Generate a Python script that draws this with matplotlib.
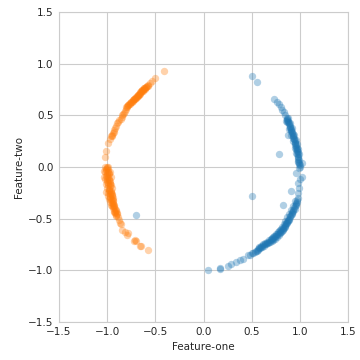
import numpy as np
import matplotlib
matplotlib.use('Agg')
import matplotlib.pyplot as plt
import seaborn as sns

# class 0 (blue) points
blue_x = [0.507, 0.559, 0.732, 0.766, 0.78, 0.80, 0.812, 0.83, 0.845, 0.864,
          0.87, 0.88, 0.89, 0.898, 0.905, 0.91, 0.92, 0.925, 0.933, 0.94,
          0.945, 0.95, 0.955, 0.96, 0.965, 0.97, 0.975, 0.98, 0.985, 0.99,
          0.995, 1.0, 0.9, 0.92, 0.94, 0.955, 0.97, 0.98, 0.99, 0.87,
          0.89, 0.91, 0.93, 0.95, 0.96, 0.88, 0.86,
          0.874, 0.787, 1.026, 0.96, 1.02, 0.985, 1.0, 0.99, 0.985, 0.507,
          0.909, 0.829,
          0.968, 0.955, 0.945, 0.933, 0.92, 0.905, 0.89, 0.875, 0.864, 0.85,
          0.835, 0.82, 0.805, 0.794, 0.78, 0.76, 0.74, 0.72, 0.705, 0.69,
          0.67, 0.65, 0.63, 0.61, 0.587, 0.565, 0.55, 0.53, 0.51, 0.5,
          0.483, 0.465, 0.95, 0.93, 0.91, 0.89, 0.87, 0.85, 0.83, 0.81,
          0.79, 0.77, 0.75, 0.73, 0.71, 0.68, 0.66, 0.64, 0.62, 0.6,
          0.58, 0.975, 0.96, 0.94, 0.92, 0.9, 0.88, 0.86, 0.84, 0.82,
          0.8, 0.7, 0.72, 0.74, 0.76, 0.78,
          0.865, 0.875, 0.885, 0.895, 0.9, 0.91, 0.915, 0.925, 0.93, 0.935,
          0.945, 0.95, 0.96, 0.965, 0.97, 0.975, 0.98, 0.985, 0.99, 1.0,
          0.995, 0.985,
          0.97, 0.96, 0.945, 0.93, 0.915, 0.9, 0.885, 0.87, 0.855, 0.84,
          0.825, 0.81, 0.795, 0.775, 0.755, 0.735, 0.715, 0.695, 0.675, 0.655,
          0.635, 0.615, 0.595, 0.575, 0.56, 0.54,
          0.414, 0.379, 0.334, 0.282, 0.251, 0.171, 0.175, 0.05, -0.704]
blue_y = [0.875, 0.82, 0.656, 0.623, 0.61, 0.575, 0.552, 0.53, 0.50, 0.472,
          0.455, 0.43, 0.41, 0.39, 0.37, 0.36, 0.34, 0.32, 0.294, 0.27,
          0.25, 0.235, 0.215, 0.197, 0.18, 0.16, 0.14, 0.12, 0.1, 0.07,
          0.04, 0.0, 0.42, 0.38, 0.31, 0.26, 0.22, 0.17, 0.12, 0.43,
          0.37, 0.31, 0.25, 0.18, 0.13, 0.47, 0.44,
          0.307, 0.123, -0.094, -0.06, 0.04, -0.158, -0.12, -0.2, -0.255, -0.278,
          -0.23, -0.368,
          -0.32, -0.35, -0.38, -0.417, -0.44, -0.47, -0.50, -0.525, -0.546, -0.57,
          -0.59, -0.61, -0.63, -0.643, -0.66, -0.68, -0.695, -0.705, -0.715, -0.724,
          -0.74, -0.75, -0.762, -0.775, -0.788, -0.80, -0.81, -0.82, -0.835, -0.836,
          -0.853, -0.855, -0.33, -0.38, -0.42, -0.46, -0.49, -0.52, -0.55, -0.58,
          -0.61, -0.63, -0.65, -0.67, -0.69, -0.71, -0.725, -0.74, -0.75, -0.77,
          -0.78, -0.3, -0.36, -0.40, -0.46, -0.48, -0.51, -0.54, -0.56, -0.59,
          -0.6, -0.70, -0.68, -0.665, -0.65, -0.625,
          0.46, 0.44, 0.42, 0.40, 0.38, 0.35, 0.33, 0.30, 0.28, 0.27,
          0.23, 0.21, 0.17, 0.15, 0.12, 0.10, 0.08, 0.06, 0.03, 0.02,
          -0.01, 0.05,
          -0.34, -0.37, -0.41, -0.43, -0.45, -0.49, -0.51, -0.53, -0.555, -0.58,
          -0.6, -0.62, -0.635, -0.65, -0.67, -0.685, -0.695, -0.71, -0.725, -0.735,
          -0.75, -0.76, -0.775, -0.785, -0.795, -0.81,
          -0.891, -0.904, -0.92, -0.937, -0.959, -0.982, -0.985, -0.998, -0.465]

# class 1 (orange) points
orange_x = [-0.41, -0.504, -0.538, -0.56, -0.575, -0.59, -0.605, -0.62, -0.635, -0.645,
            -0.659, -0.67, -0.685, -0.70, -0.715, -0.729, -0.745, -0.76, -0.78, -0.798,
            -0.81, -0.82, -0.835, -0.849, -0.86, -0.875, -0.89, -0.901, -0.91, -0.92,
            -0.929, -0.94, -0.955, -0.964, -0.975, -0.989, -1.012, -1.023,
            -0.61, -0.63, -0.65, -0.67, -0.69, -0.71, -0.73, -0.75, -0.77, -0.60,
            -0.62, -0.64, -0.68, -0.72, -0.79, -0.83, -0.85, -0.95, -0.93,
            -0.58, -0.595, -0.615, -0.625, -0.64, -0.655, -0.665, -0.68, -0.695, -0.705,
            -0.72, -0.735, -0.755, -0.765, -0.785, -0.8,
            -1.0, -0.99, -1.023, -1.01, -0.99, -1.02, -1.0, -0.985, -1.01, -0.99,
            -1.02, -1.005, -0.98, -1.0, -0.975, -1.015, -0.99, -0.97, -1.0, -0.98,
            -0.96, -1.01, -0.989, -0.97, -0.95, -0.99, -0.97, -0.945, -0.98, -0.96,
            -0.94, -0.953, -0.97, -0.935, -0.95, -0.93, -0.94, -0.92, -0.93, -0.91,
            -0.919, -0.9, -0.905, -0.89, -0.88, -1.03, -1.03, -0.96, -0.95, -0.975,
            -1.0, -0.985, -0.965, -0.955, -0.94, -0.925, -0.91, -0.895,
            -1.0, -1.015, -0.995, -0.98, -1.005, -0.985, -0.97, -0.995, -0.975, -0.96,
            -0.985, -0.965, -0.95, -0.975, -0.955, -0.94, -0.96, -0.945, -0.93, -0.925,
            -0.915, -0.91,
            -0.867, -0.855, -0.815, -0.85, -0.781, -0.79, -0.711, -0.72, -0.70, -0.66,
            -0.652, -0.579]
orange_y = [0.923, 0.859, 0.827, 0.81, 0.79, 0.778, 0.765, 0.755, 0.74, 0.73,
            0.714, 0.70, 0.69, 0.675, 0.66, 0.649, 0.63, 0.615, 0.60, 0.584,
            0.56, 0.54, 0.515, 0.487, 0.465, 0.45, 0.435, 0.423, 0.40, 0.38,
            0.359, 0.33, 0.31, 0.294, 0.265, 0.23, 0.158, 0.1,
            0.75, 0.73, 0.72, 0.71, 0.68, 0.67, 0.64, 0.625, 0.61, 0.77,
            0.76, 0.745, 0.70, 0.655, 0.59, 0.52, 0.50, 0.30, 0.34,
            0.785, 0.77, 0.76, 0.745, 0.735, 0.72, 0.705, 0.695, 0.685, 0.67,
            0.66, 0.645, 0.625, 0.61, 0.595, 0.575,
            0.0, 0.003, 0.003, -0.02, -0.03, -0.05, -0.06, -0.07, -0.09, -0.1,
            -0.12, -0.126, -0.13, -0.15, -0.16, -0.17, -0.18, -0.19, -0.2, -0.22,
            -0.23, -0.24, -0.255, -0.26, -0.27, -0.28, -0.29, -0.30, -0.31, -0.32,
            -0.33, -0.352, -0.34, -0.36, -0.375, -0.39, -0.40, -0.41, -0.425, -0.43,
            -0.449, -0.46, -0.48, -0.49, -0.51, -0.04, -0.1, -0.1, -0.2, -0.05,
            -0.08, -0.21, -0.24, -0.28, -0.35, -0.37, -0.42, -0.45,
            -0.01, -0.03, -0.045, -0.06, -0.11, -0.12, -0.14, -0.16, -0.17, -0.18,
            -0.23, -0.25, -0.26, -0.3, -0.31, -0.32, -0.37, -0.38, -0.38, -0.44,
            -0.44, -0.47,
            -0.546, -0.55, -0.627, -0.61, -0.643, -0.66, -0.707, -0.72, -0.72, -0.762,
            -0.765, -0.804]

sns.set_style('whitegrid')
plt.rcParams['font.family'] = ['DejaVu Sans']

fig = plt.figure(figsize=(3.6, 3.6), dpi=100)
ax = fig.add_axes([0.164, 0.106, 0.803, 0.861])

ax.scatter(blue_x, blue_y, s=28, color='#1f77b4', alpha=0.35, linewidths=0)
ax.scatter(orange_x, orange_y, s=28, color='#ff7f0e', alpha=0.35, linewidths=0)

ax.set_xlim(-1.5, 1.5)
ax.set_ylim(-1.5, 1.5)
ax.set_xticks(np.arange(-1.5, 1.51, 0.5))
ax.set_yticks(np.arange(-1.5, 1.51, 0.5))
ax.tick_params(labelsize=7.5, colors='#262626', length=0, pad=4)
ax.set_xlabel('Feature-one', fontsize=7.5, color='#262626', labelpad=3)
ax.set_ylabel('Feature-two', fontsize=7.5, color='#262626', labelpad=3)
for sp in ax.spines.values():
    sp.set_color('#cccccc')
    sp.set_linewidth(0.8)
ax.grid(True, color='#cccccc', linewidth=0.8)

fig.savefig('out.png', dpi=100)
